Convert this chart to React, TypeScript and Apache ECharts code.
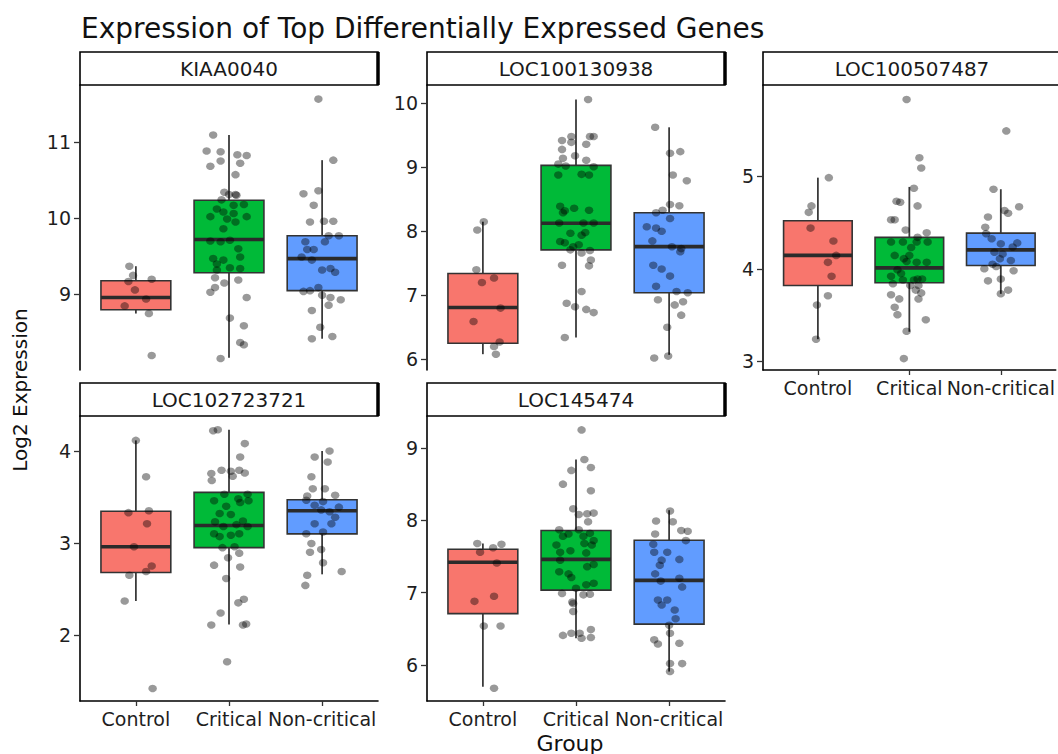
import React, { useEffect, useRef } from "react";
import * as echarts from "echarts";

// ---------- categories & labels ----------
const groups = ["Control", "Critical", "Non-critical"];
const groupColors = ["#F8766D", "#00BA38", "#619CFF"];
const geneNames = ["KIAA0040", "LOC100130938", "LOC100507487", "LOC102723721", "LOC145474"];
const titleText = "Expression of Top Differentially Expressed Genes";
const yTitle = "Log2 Expression";
const xTitle = "Group";

// ---------- y tick labels per gene ----------
const kiaaTicks = [9, 10, 11];
const loc938Ticks = [6, 7, 8, 9, 10];
const loc487Ticks = [3, 4, 5];
const loc721Ticks = [2, 3, 4];
const loc474Ticks = [6, 7, 8, 9];

// ---------- y ranges (data range + 5% expansion) ----------
const kiaaRange = [8.01, 11.745];
const loc938Range = [5.833, 10.286];
const loc487Range = [2.907, 5.986];
const loc721Range = [1.284, 4.38];
const loc474Range = [5.503, 9.442];

// ---------- box statistics [lower whisker, Q1, median, Q3, upper whisker] ----------
const kiaaBox = [
  [8.75, 8.8, 8.96, 9.18, 9.37],
  [8.17, 9.285, 9.72, 10.234, 11.09],
  [8.42, 9.05, 9.47, 9.77, 10.76],
];
const loc938Box = [
  [6.08, 6.25, 6.81, 7.34, 8.15],
  [6.34, 7.71, 8.125, 9.03, 10.06],
  [6.07, 7.04, 7.76, 8.29, 9.625],
];
const loc487Box = [
  [3.24, 3.82, 4.145, 4.52, 4.985],
  [3.32, 3.85, 4.01, 4.34, 4.885],
  [3.73, 4.036, 4.205, 4.386, 4.86],
];
const loc721Box = [
  [2.37, 2.68, 2.96, 3.345, 4.115],
  [2.115, 2.95, 3.19, 3.55, 4.23],
  [2.66, 3.1, 3.35, 3.47, 4.0],
];
const loc474Box = [
  [5.7, 6.71, 7.42, 7.6, 7.68],
  [6.37, 7.035, 7.46, 7.86, 8.84],
  [5.91, 6.565, 7.17, 7.725, 8.14],
];

// ---------- jittered samples [group position, value] ----------
const kiaaControl = [
  [0.93, 9.37], [0.97, 9.25], [0.92, 9.17], [1.17, 9.2], [0.99, 9.06], [1.11, 8.94], [0.88, 8.85], [1.14, 8.75], [1.17, 8.2],
];
const kiaaCritical = [
  [1.83, 11.09], [1.76, 10.88], [1.91, 10.87], [1.8, 10.68], [1.91, 10.75], [2.09, 10.83], [2.19, 10.82], [2.12, 10.72],
  [2.07, 10.57], [1.95, 10.34], [2.0, 10.31], [2.07, 10.31], [2.08, 10.3], [1.92, 10.24], [2.05, 10.17], [2.16, 10.18],
  [1.87, 10.12], [2.05, 10.06], [1.94, 10.08], [1.8, 10.02], [2.19, 10.02], [1.98, 9.99], [2.07, 9.95], [1.94, 9.86],
  [1.8, 9.7], [1.91, 9.69], [2.01, 9.71], [2.1, 9.6], [1.83, 9.47], [1.94, 9.45], [1.87, 9.4], [2.12, 9.49],
  [2.01, 9.35], [2.12, 9.34], [1.87, 9.32], [1.85, 9.22], [2.1, 9.19], [1.95, 9.15], [1.85, 9.09], [1.8, 9.03],
  [2.19, 8.96], [2.01, 8.69], [2.16, 8.59], [2.12, 8.37], [2.16, 8.34], [1.91, 8.16],
];
const kiaaNonCritical = [
  [2.96, 11.56], [3.12, 10.76], [2.8, 10.32], [2.96, 10.36], [2.91, 10.17], [2.87, 9.95], [3.02, 9.96], [3.12, 9.96],
  [3.07, 9.77], [3.18, 9.77], [2.82, 9.69], [3.03, 9.69], [2.84, 9.59], [2.91, 9.59], [2.78, 9.49], [2.89, 9.45],
  [3.09, 9.34], [3.14, 9.29], [3.0, 9.32], [2.87, 9.05], [2.8, 9.04], [2.96, 9.09], [3.0, 8.99], [3.09, 8.96],
  [3.2, 8.93], [2.89, 8.79], [3.07, 8.86], [2.98, 8.57], [2.89, 8.42], [3.11, 8.45],
];

const loc938Control = [
  [1.01, 8.15], [0.94, 8.02], [0.93, 7.4], [0.99, 7.2], [1.12, 7.27], [1.19, 6.8], [0.9, 6.59], [1.18, 6.27], [1.12, 6.2], [1.14, 6.08],
];
const loc938Critical = [
  [2.13, 10.06], [1.85, 9.42], [1.95, 9.48], [2.15, 9.48], [2.19, 9.48], [1.85, 9.28], [2.11, 9.36], [1.95, 9.39],
  [1.86, 9.14], [1.99, 9.18], [2.11, 9.11], [1.81, 9.05], [1.89, 9.02], [2.19, 9.01], [1.81, 8.88], [2.06, 8.89],
  [2.14, 8.88], [1.83, 8.39], [1.86, 8.29], [1.98, 8.36], [2.14, 8.33], [1.88, 8.32], [1.82, 8.13], [2.08, 8.13],
  [2.19, 8.13], [1.94, 7.97], [2.1, 7.98], [2.06, 7.94], [1.83, 7.84], [1.88, 7.82], [1.97, 7.76], [2.03, 7.79],
  [1.94, 7.71], [2.06, 7.66], [2.15, 7.7], [2.16, 7.55], [1.85, 7.47], [2.14, 7.46], [1.9, 6.875], [1.99, 6.82],
  [2.06, 7.06], [2.11, 6.78], [2.19, 6.73], [1.88, 6.34],
];
const loc938NonCritical = [
  [2.85, 9.625], [3.01, 9.22], [3.12, 9.245], [3.04, 8.88], [3.19, 8.79], [3.01, 8.42], [3.11, 8.4], [2.93, 8.33],
  [2.86, 8.29], [3.01, 8.2], [2.76, 8.07], [2.86, 8.05], [2.92, 8.0], [2.82, 7.85], [3.03, 7.76], [3.13, 7.73],
  [3.12, 7.68], [2.83, 7.47], [2.92, 7.41], [3.01, 7.3], [2.86, 7.14], [3.08, 7.06], [3.2, 7.04], [2.88, 6.93],
  [3.15, 6.9], [3.06, 6.85], [3.13, 6.69], [2.98, 6.5], [2.84, 6.02], [2.99, 6.05],
];

const loc487Control = [
  [1.12, 4.985], [0.93, 4.68], [0.9, 4.61], [0.92, 4.44], [1.17, 4.3], [1.2, 4.145], [1.11, 4.07], [1.15, 3.92], [1.11, 3.71], [0.99, 3.61], [0.98, 3.24],
];
const loc487Critical = [
  [1.97, 5.83], [2.11, 5.2], [2.13, 5.09], [2.05, 4.87], [1.86, 4.73], [1.9, 4.72], [2.09, 4.68], [1.8, 4.53],
  [1.84, 4.53], [1.96, 4.42], [2.09, 4.34], [2.19, 4.39], [1.8, 4.29], [1.93, 4.29], [2.02, 4.23], [2.08, 4.29],
  [2.2, 4.29], [1.84, 4.145], [1.94, 4.11], [2.0, 4.145], [1.97, 4.08], [1.87, 3.99], [2.08, 4.07], [2.19, 4.07],
  [1.8, 3.92], [1.91, 3.95], [1.93, 3.88], [2.05, 3.88], [2.09, 3.89], [2.14, 3.89], [1.82, 3.84], [2.01, 3.82],
  [2.1, 3.82], [2.07, 3.77], [2.13, 3.74], [1.8, 3.72], [1.89, 3.675], [2.1, 3.675], [1.84, 3.585], [1.87, 3.505],
  [2.18, 3.45], [1.97, 3.325], [1.94, 3.03],
];
const loc487NonCritical = [
  [3.06, 5.49], [2.92, 4.86], [3.2, 4.67], [3.04, 4.63], [3.08, 4.6], [2.86, 4.56], [2.83, 4.45], [2.84, 4.38],
  [2.9, 4.325], [3.0, 4.27], [3.18, 4.28], [3.13, 4.235], [2.93, 4.18], [3.02, 4.16], [2.99, 4.11], [3.11, 4.09],
  [2.91, 4.05], [2.82, 4.0], [2.95, 4.025], [3.14, 3.98], [3.0, 3.89], [2.86, 3.87], [3.08, 3.77], [3.0, 3.73],
];

const loc721Control = [
  [1.0, 4.115], [1.11, 3.72], [0.92, 3.33], [1.14, 3.35], [1.12, 3.21], [0.98, 2.96], [1.17, 2.75], [1.11, 2.69], [0.93, 2.65], [0.88, 2.37], [1.18, 1.42],
];
const loc721Critical = [
  [1.83, 4.22], [1.88, 4.23], [2.17, 4.08], [2.12, 3.935], [1.92, 3.79], [2.02, 3.78], [1.81, 3.755], [2.11, 3.79],
  [2.17, 3.76], [2.04, 3.725], [1.815, 3.68], [1.95, 3.53], [2.2, 3.53], [1.84, 3.46], [2.1, 3.48], [1.97, 3.4],
  [2.12, 3.44], [2.21, 3.46], [1.9, 3.32], [2.02, 3.31], [1.85, 3.23], [2.15, 3.24], [1.94, 3.18], [2.08, 3.2],
  [2.2, 3.18], [1.84, 3.1], [2.02, 3.085], [2.11, 3.1], [1.9, 3.07], [1.93, 2.95], [2.06, 2.96], [1.99, 2.84],
  [2.11, 2.89], [1.84, 2.76], [2.12, 2.74], [1.97, 2.615], [2.16, 2.39], [2.1, 2.35], [1.91, 2.24], [1.81, 2.11],
  [2.15, 2.11], [2.185, 2.12], [1.98, 1.71],
];
const loc721NonCritical = [
  [3.08, 4.0], [2.92, 3.935], [3.06, 3.88], [2.885, 3.72], [2.9, 3.59], [3.03, 3.59], [3.14, 3.52], [2.84, 3.51],
  [2.83, 3.465], [3.01, 3.45], [2.92, 3.41], [3.18, 3.39], [2.99, 3.36], [3.08, 3.34], [3.14, 3.28], [3.1, 3.21],
  [2.92, 3.21], [2.83, 3.1], [3.01, 3.12], [2.885, 2.995], [2.99, 2.93], [2.87, 2.9], [3.01, 2.785], [2.84, 2.65],
  [3.21, 2.69], [2.82, 2.54],
];

const loc474Control = [
  [0.94, 7.68], [1.2, 7.67], [0.97, 7.56], [1.11, 7.62], [1.15, 7.41], [1.12, 6.95], [0.91, 6.88], [1.01, 6.54], [1.19, 6.54], [1.12, 5.68],
];
const loc474Critical = [
  [2.06, 9.25], [2.09, 8.84], [1.95, 8.69], [2.16, 8.73], [1.86, 8.5], [2.16, 8.41], [1.97, 8.16], [2.12, 8.09],
  [2.03, 8.08], [2.19, 8.1], [2.13, 7.98], [1.82, 7.87], [2.03, 7.87], [1.86, 7.78], [1.92, 7.81], [2.15, 7.82],
  [2.09, 7.68], [2.19, 7.72], [2.08, 7.78], [1.79, 7.66], [1.83, 7.56], [1.94, 7.58], [2.17, 7.66], [2.11, 7.55],
  [1.83, 7.45], [2.19, 7.39], [2.12, 7.36], [1.82, 7.29], [1.92, 7.26], [1.95, 7.21], [2.11, 7.11], [2.19, 7.13],
  [1.85, 6.99], [2.0, 7.06], [2.08, 6.97], [2.15, 6.98], [1.96, 6.87], [1.97, 6.85], [1.97, 6.74], [1.86, 6.41],
  [1.95, 6.44], [2.04, 6.44], [2.16, 6.49], [2.06, 6.37], [2.16, 6.38],
];
const loc474NonCritical = [
  [3.01, 8.13], [2.86, 7.99], [3.04, 7.98], [3.13, 7.86], [3.2, 7.85], [2.85, 7.81], [3.18, 7.72], [2.83, 7.67],
  [2.84, 7.56], [2.98, 7.56], [3.11, 7.46], [2.92, 7.45], [2.9, 7.38], [2.85, 7.26], [3.11, 7.2], [2.91, 7.16],
  [3.14, 7.08], [2.88, 6.9], [2.98, 6.9], [2.92, 6.83], [3.06, 6.76], [3.07, 6.64], [3.0, 6.55], [3.01, 6.44],
  [2.84, 6.35], [2.88, 6.29], [3.11, 6.3], [3.01, 6.02], [3.14, 6.02], [3.01, 5.91],
];

// ---------- panel assembly ----------
const panelTicks = [kiaaTicks, loc938Ticks, loc487Ticks, loc721Ticks, loc474Ticks];
const panelRanges = [kiaaRange, loc938Range, loc487Range, loc721Range, loc474Range];
const panelBoxes = [kiaaBox, loc938Box, loc487Box, loc721Box, loc474Box];
const panelPoints = [
  [kiaaControl, kiaaCritical, kiaaNonCritical],
  [loc938Control, loc938Critical, loc938NonCritical],
  [loc487Control, loc487Critical, loc487NonCritical],
  [loc721Control, loc721Critical, loc721NonCritical],
  [loc474Control, loc474Critical, loc474NonCritical],
];

// layout (pixels)
const W = 1058;
const H = 754;
const PW = 298;
const PH = 285;
const STRIP_H = 33;
const panelLayout = [
  { left: 80, top: 85, showX: false },
  { left: 427, top: 85, showX: false },
  { left: 763, top: 85, showX: true },
  { left: 80, top: 416, showX: true },
  { left: 427, top: 416, showX: true },
];
const FONT = "'DejaVu Sans', 'Liberation Sans', Arial, sans-serif";
const INK = "#1e1e1e";

function buildOption() {
  const grid: any[] = [];
  const xAxis: any[] = [];
  const yAxis: any[] = [];
  const series: any[] = [];
  const graphic: any[] = [];

  panelLayout.forEach((p, i) => {
    grid.push({ left: p.left, top: p.top, width: PW, height: PH, containLabel: false });
    xAxis.push({
      gridIndex: i,
      type: "value",
      min: 0.4,
      max: 3.6,
      splitLine: { show: false },
      axisLine: { show: p.showX, onZero: false, lineStyle: { color: "#000", width: 1.6 } },
      axisTick: { show: p.showX, customValues: [1, 2, 3], length: 5, lineStyle: { color: "#333", width: 1.3 } },
      axisLabel: {
        show: p.showX,
        customValues: [1, 2, 3],
        formatter: (v: number) => groups[Math.round(v) - 1],
        margin: 8,
        fontSize: 19,
        fontFamily: FONT,
        color: INK,
      },
    });
    yAxis.push({
      gridIndex: i,
      type: "value",
      min: panelRanges[i][0],
      max: panelRanges[i][1],
      splitLine: { show: false },
      axisLine: { show: true, onZero: false, lineStyle: { color: "#000", width: 1.6 } },
      axisTick: { show: true, customValues: panelTicks[i], length: 6, lineStyle: { color: "#333", width: 1.3 } },
      axisLabel: {
        customValues: panelTicks[i],
        margin: 9,
        fontSize: 19,
        fontFamily: FONT,
        color: INK,
      },
    });

    // boxes
    series.push({
      type: "custom",
      xAxisIndex: i,
      yAxisIndex: i,
      encode: { x: 0, y: [1, 2, 3, 4, 5] },
      data: panelBoxes[i].map((b, g) => [g + 1, ...b]),
      renderItem: (params: any, api: any) => {
        const x = api.value(0);
        const lo = api.coord([x, api.value(1)]);
        const q1 = api.coord([x, api.value(2)]);
        const md = api.coord([x, api.value(3)]);
        const q3 = api.coord([x, api.value(4)]);
        const hi = api.coord([x, api.value(5)]);
        const half = api.size([0.75, 0])[0] / 2;
        const cx = q1[0];
        const lineStyle = { stroke: "#3a3a3a", lineWidth: 1.8 };
        return {
          type: "group",
          children: [
            { type: "line", shape: { x1: cx, y1: q1[1], x2: cx, y2: lo[1] }, style: lineStyle },
            { type: "line", shape: { x1: cx, y1: q3[1], x2: cx, y2: hi[1] }, style: lineStyle },
            {
              type: "rect",
              shape: { x: cx - half, y: q3[1], width: half * 2, height: q1[1] - q3[1] },
              style: { fill: groupColors[params.dataIndex], stroke: "#333", lineWidth: 1.6 },
            },
            {
              type: "line",
              shape: { x1: cx - half, y1: md[1], x2: cx + half, y2: md[1] },
              style: { stroke: "#2b2b2b", lineWidth: 3.6 },
            },
          ],
        };
      },
    });

    // jittered points
    series.push({
      type: "scatter",
      xAxisIndex: i,
      yAxisIndex: i,
      symbol: "circle",
      symbolSize: [8.5, 7.5],
      itemStyle: { color: "rgba(0,0,0,0.5)" },
      data: [...panelPoints[i][0], ...panelPoints[i][1], ...panelPoints[i][2]],
    });

    // facet strip
    graphic.push({
      type: "rect",
      shape: { x: p.left, y: p.top - STRIP_H, width: PW, height: STRIP_H },
      style: { fill: "#fff", stroke: "#000", lineWidth: 1.6 },
    });
    graphic.push({
      type: "line",
      shape: { x1: p.left + PW, y1: p.top - STRIP_H, x2: p.left + PW, y2: p.top },
      style: { stroke: "#000", lineWidth: 3.5 },
    });
    graphic.push({
      type: "text",
      x: p.left + PW / 2,
      y: p.top - STRIP_H / 2,
      style: {
        text: geneNames[i],
        fontSize: 20,
        fontFamily: FONT,
        fill: "#1a1a1a",
        align: "center",
        verticalAlign: "middle",
      },
    });
  });

  graphic.push({
    type: "text",
    x: 81,
    y: 28,
    style: { text: titleText, fontSize: 28, fontFamily: FONT, fill: "#111", align: "left", verticalAlign: "middle" },
  });
  graphic.push({
    type: "text",
    x: 570,
    y: 743,
    style: { text: xTitle, fontSize: 22, fontFamily: FONT, fill: "#111", align: "center", verticalAlign: "middle" },
  });
  graphic.push({
    type: "text",
    x: 20,
    y: 390,
    rotation: Math.PI / 2,
    style: { text: yTitle, fontSize: 20, fontFamily: FONT, fill: "#111", align: "center", verticalAlign: "middle" },
  });

  return {
    animation: false,
    backgroundColor: "#fff",
    grid,
    xAxis,
    yAxis,
    series,
    graphic,
  };
}

export default function App() {
  const ref = useRef<HTMLDivElement>(null);
  useEffect(() => {
    if (!ref.current) return;
    const chart = echarts.init(ref.current, undefined, { renderer: "svg" });
    chart.setOption(buildOption() as any);
    return () => chart.dispose();
  }, []);
  return (
    <div
      ref={ref}
      style={{ position: "fixed", left: 0, top: 0, width: W, height: H, background: "#fff" }}
    />
  );
}
